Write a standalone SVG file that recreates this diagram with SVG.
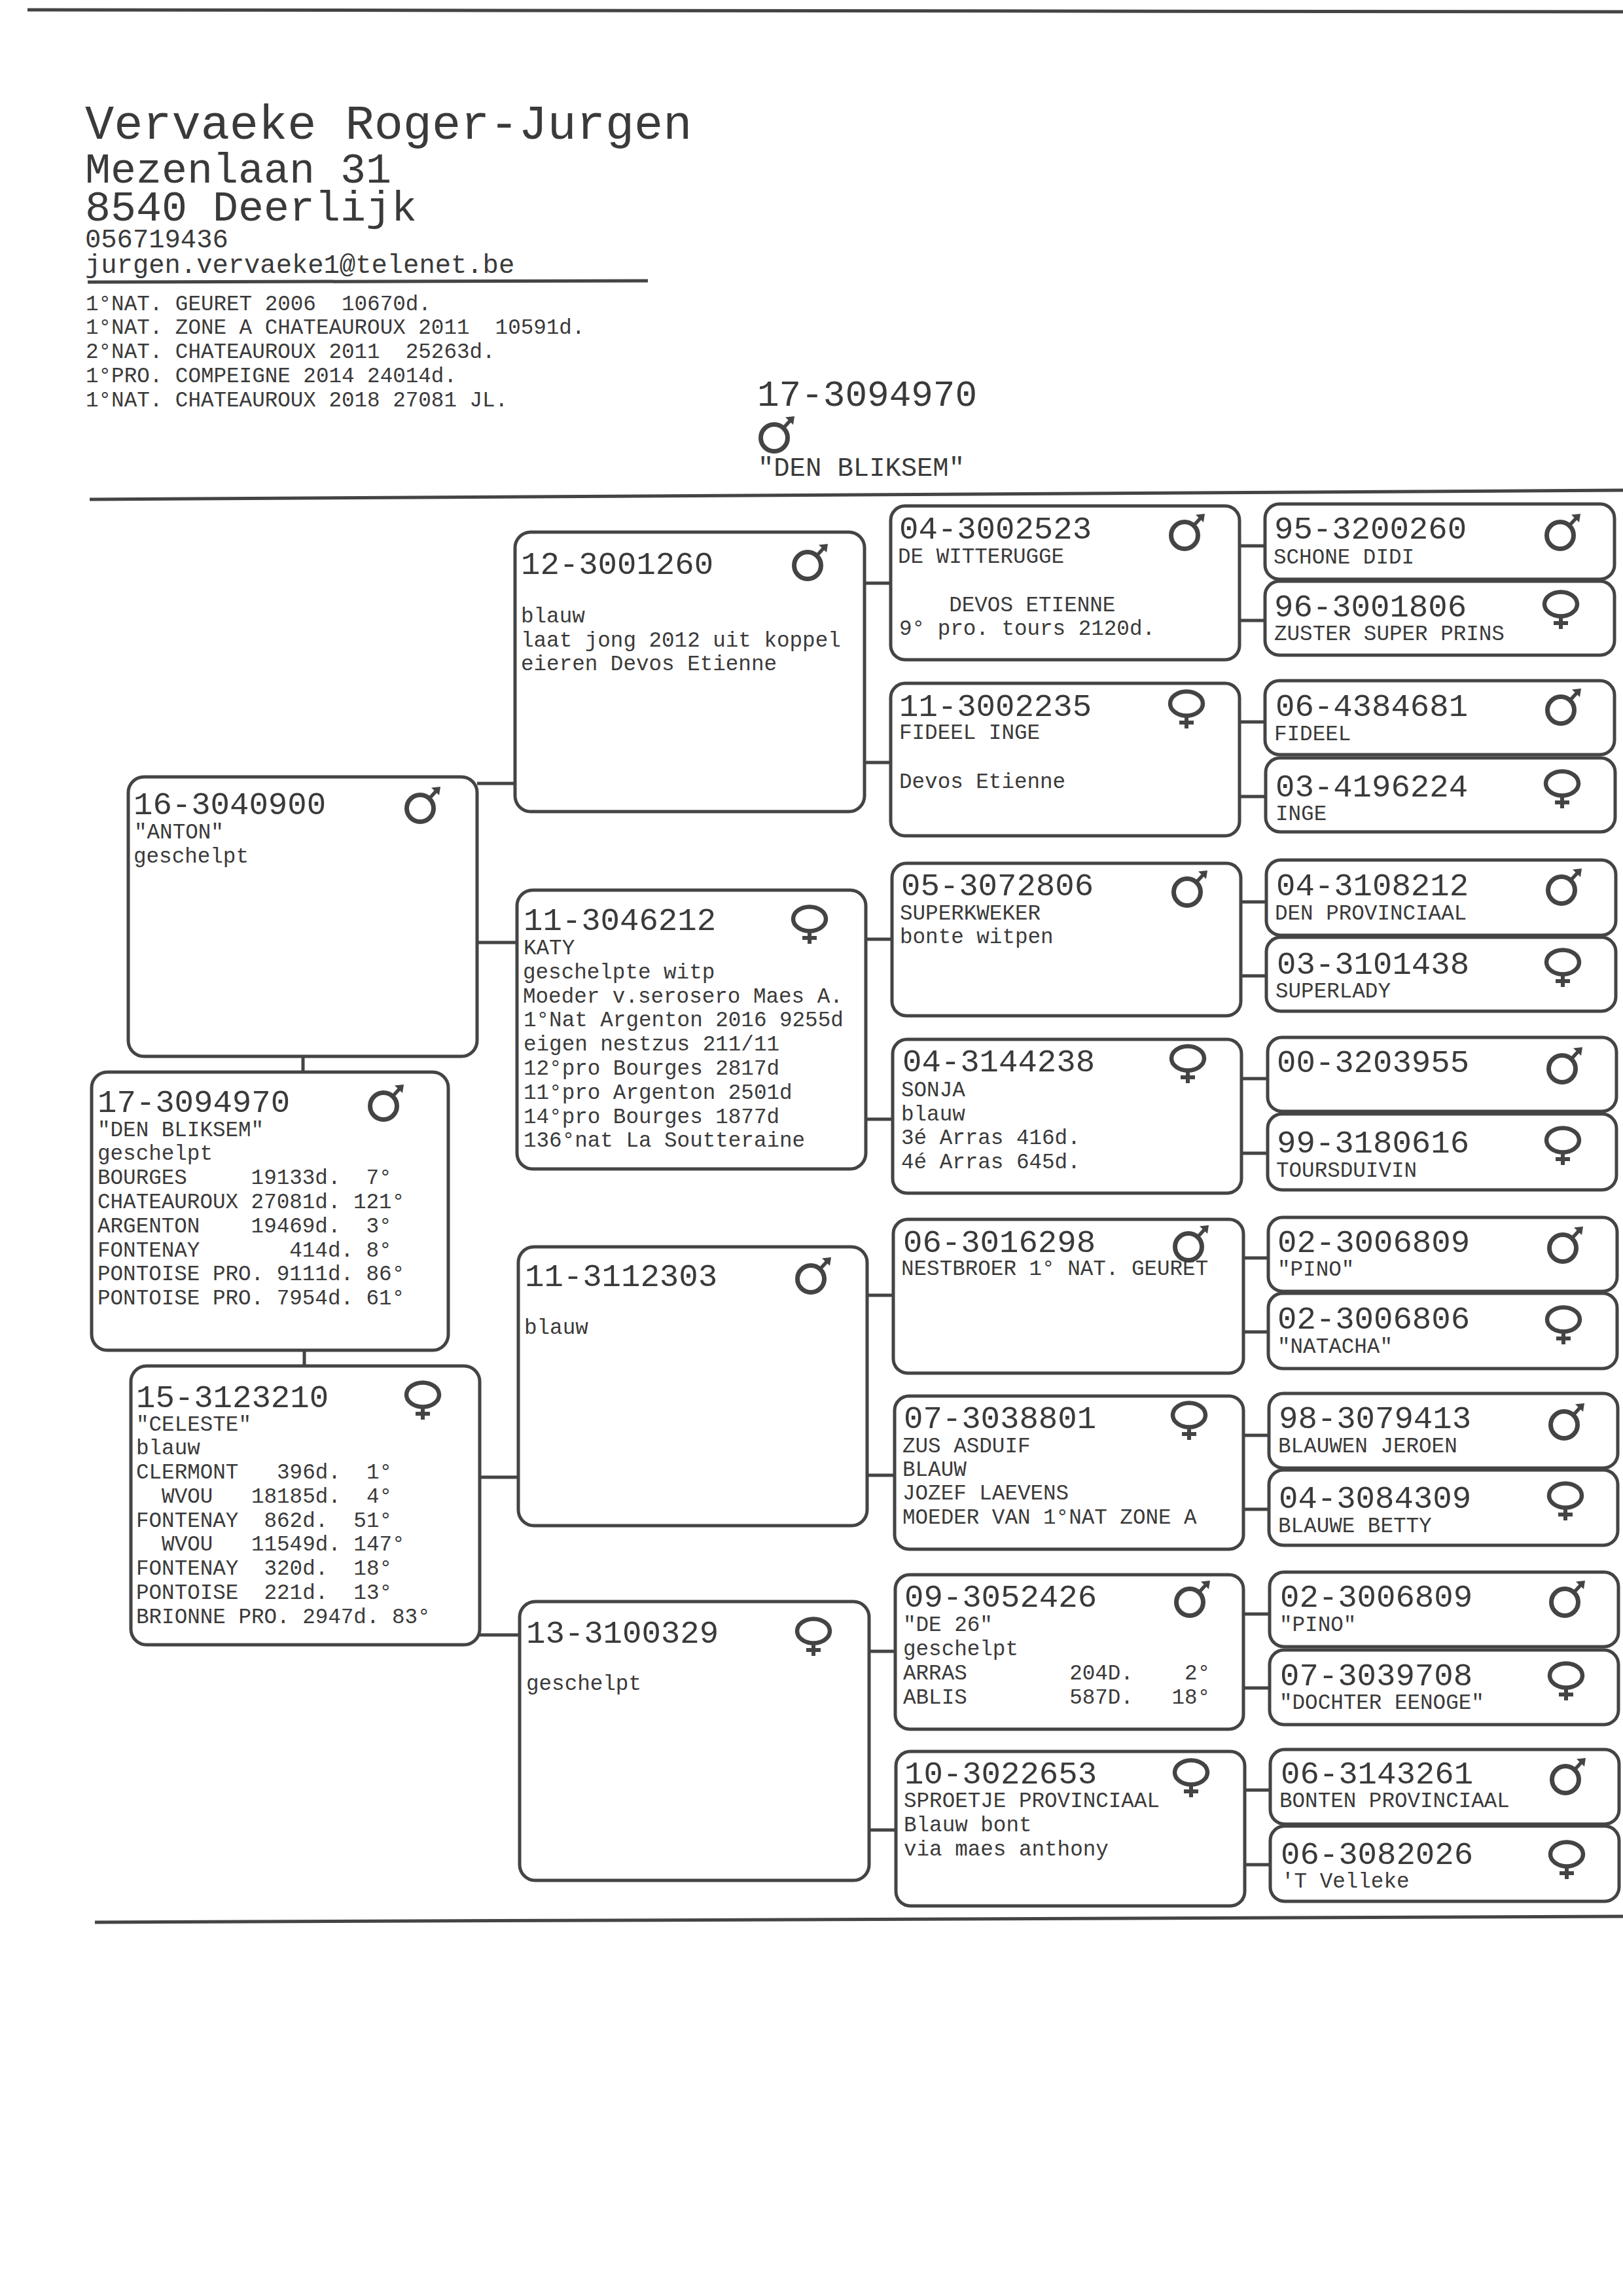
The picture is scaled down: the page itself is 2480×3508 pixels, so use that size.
<svg xmlns="http://www.w3.org/2000/svg" width="2480" height="3508" viewBox="0 0 2480 3508">
<style>
text{font-family:"Liberation Mono","DejaVu Sans Mono",monospace;fill:#3a3a3a;white-space:pre}
.id{font-size:49px}
.s{font-size:32.6px}
.h1{font-size:73.6px}
.h2{font-size:65px}
.h3{font-size:40.5px}
.t{font-size:56px}
.box{fill:#fff;stroke:#444;stroke-width:5}
.rule{fill:none;stroke:#444;stroke-width:5}
.c{fill:none;stroke:#444;stroke-width:5}
</style>
<defs>
<g id="m"><circle cx="0" cy="-1" r="20.5" fill="none" stroke="#444" stroke-width="7"/><path d="M14-16 25-28" fill="none" stroke="#444" stroke-width="5.5"/><path d="M17-32.500 31-34 29-21Z" fill="#444"/></g>
<g id="f"><ellipse cx="0" cy="-1" rx="25" ry="18.500" fill="none" stroke="#444" stroke-width="6.500"/><path d="M0 17V37M-11 28H11" fill="none" stroke="#444" stroke-width="6"/></g>
</defs>
<rect width="2480" height="3508" fill="#fff"/>
<g id="rules">
<path class="rule" d="M42 15 2480 18"/>
<path class="rule" d="M134 431 990 429"/>
<path class="rule" d="M137 763 2480 749"/>
<path class="rule" d="M145 2937 2480 2928"/>
</g>
<g id="header">
<text class="h1" x="130" y="212">Vervaeke Roger-Jurgen</text>
<text class="h2" x="130" y="279">Mezenlaan 31</text>
<text class="h2" x="130" y="337">8540 Deerlijk</text>
<text class="h3" x="130" y="378">056719436</text>
<text class="h3" x="130" y="417">jurgen.vervaeke1@telenet.be</text>
<text class="s" x="131" y="474">1°NAT. GEURET 2006  10670d.</text>
<text class="s" x="131" y="510">1°NAT. ZONE A CHATEAUROUX 2011  10591d.</text>
<text class="s" x="131" y="547">2°NAT. CHATEAUROUX 2011  25263d.</text>
<text class="s" x="131" y="584">1°PRO. COMPEIGNE 2014 24014d.</text>
<text class="s" x="131" y="621">1°NAT. CHATEAUROUX 2018 27081 JL.</text>
</g>
<g id="title">
<text class="t" x="1157" y="620">17-3094970</text>
<use href="#m" x="1183" y="670"/>
<text class="h3" x="1158" y="727">"DEN BLIKSEM"</text>
</g>
<g id="connectors">
<path class="c" d="M729 1197H787M730 1440H790M463 1614V1638M465 2063V2087M733 2257H792M733 2498H794"/>
<path class="c" d="M1321 891H1361M1321 1165H1361M1323 1435H1363M1323 1710H1364M1325 1979H1365M1325 2254H1367M1328 2523H1368M1328 2796H1369"/>
<path class="c" d="M1894 834H1933M1894 948H1933M1894 1103H1933M1894 1217H1933M1896 1378H1935M1896 1491H1935M1897 1648H1937M1897 1762H1937M1899 1922H1938M1899 2035H1938M1900 2193H1939M1900 2306H1939M1900 2466H1940M1900 2579H1940M1902 2735H1941M1902 2849H1941"/>
</g>
<g id="n-16-3040900"><rect class="box" x="196" y="1187" width="533" height="427" rx="24"/><use href="#m" x="642" y="1236"/>
<text class="id" x="204" y="1244">16-3040900</text>
<text class="s" x="205" y="1281">"ANTON"</text><text class="s" x="204" y="1318">geschelpt</text></g>
<g id="n-17-3094970"><rect class="box" x="140" y="1638" width="545" height="425" rx="24"/><use href="#m" x="586" y="1691"/>
<text class="id" x="149" y="1699">17-3094970</text>
<text class="s" x="149" y="1736">"DEN BLIKSEM"</text><text class="s" x="149" y="1772">geschelpt</text>
<text class="s" x="149" y="1809">BOURGES     19133d.  7°</text>
<text class="s" x="149" y="1846">CHATEAUROUX 27081d. 121°</text>
<text class="s" x="149" y="1883">ARGENTON    19469d.  3°</text>
<text class="s" x="149" y="1920">FONTENAY       414d. 8°</text>
<text class="s" x="149" y="1956">PONTOISE PRO. 9111d. 86°</text>
<text class="s" x="149" y="1993">PONTOISE PRO. 7954d. 61°</text></g>
<g id="n-15-3123210"><rect class="box" x="200" y="2087" width="533" height="426" rx="24"/><use href="#f" x="646" y="2132"/>
<text class="id" x="208" y="2150">15-3123210</text>
<text class="s" x="208" y="2186">"CELESTE"</text><text class="s" x="208" y="2222">blauw</text>
<text class="s" x="208" y="2259">CLERMONT   396d.  1°</text>
<text class="s" x="208" y="2296">  WVOU   18185d.  4°</text>
<text class="s" x="208" y="2333">FONTENAY  862d.  51°</text>
<text class="s" x="208" y="2369">  WVOU   11549d. 147°</text>
<text class="s" x="208" y="2406">FONTENAY  320d.  18°</text>
<text class="s" x="208" y="2443">PONTOISE  221d.  13°</text>
<text class="s" x="208" y="2480">BRIONNE PRO. 2947d. 83°</text></g>
<g id="n-12-3001260"><rect class="box" x="787" y="813" width="534" height="427" rx="24"/><use href="#m" x="1234" y="865"/>
<text class="id" x="796" y="877">12-3001260</text>
<text class="s" x="796" y="951">blauw</text><text class="s" x="796" y="988">laat jong 2012 uit koppel</text><text class="s" x="796" y="1024">eieren Devos Etienne</text></g>
<g id="n-11-3046212"><rect class="box" x="790" y="1360" width="533" height="426" rx="24"/><use href="#f" x="1237" y="1405"/>
<text class="id" x="800" y="1421">11-3046212</text>
<text class="s" x="800" y="1458">KATY</text><text class="s" x="799" y="1495">geschelpte witp</text><text class="s" x="799" y="1532">Moeder v.serosero Maes A.</text>
<text class="s" x="800" y="1568">1°Nat Argenton 2016 9255d</text><text class="s" x="800" y="1605">eigen nestzus 211/11</text><text class="s" x="800" y="1642">12°pro Bourges 2817d</text>
<text class="s" x="800" y="1679">11°pro Argenton 2501d</text><text class="s" x="800" y="1716">14°pro Bourges 1877d</text><text class="s" x="800" y="1752">136°nat La Soutteraine</text></g>
<g id="n-11-3112303"><rect class="box" x="792" y="1905" width="533" height="426" rx="24"/><use href="#m" x="1239" y="1955"/>
<text class="id" x="802" y="1965">11-3112303</text><text class="s" x="801" y="2038">blauw</text></g>
<g id="n-13-3100329"><rect class="box" x="794" y="2447" width="534" height="426" rx="24"/><use href="#f" x="1243" y="2493"/>
<text class="id" x="804" y="2510">13-3100329</text><text class="s" x="804" y="2582">geschelpt</text></g>
<g id="n-04-3002523"><rect class="box" x="1361" y="773" width="533" height="235" rx="22"/><use href="#m" x="1810" y="819"/>
<text class="id" x="1374" y="823">04-3002523</text><text class="s" x="1372" y="860">DE WITTERUGGE</text>
<text class="s" x="1372" y="934">    DEVOS ETIENNE</text><text class="s" x="1374" y="970">9° pro. tours 2120d.</text></g>
<g id="n-11-3002235"><rect class="box" x="1361" y="1044" width="533" height="233" rx="22"/><use href="#f" x="1813" y="1076"/>
<text class="id" x="1374" y="1094">11-3002235</text><text class="s" x="1374" y="1129">FIDEEL INGE</text><text class="s" x="1374" y="1204">Devos Etienne</text></g>
<g id="n-05-3072806"><rect class="box" x="1363" y="1319" width="533" height="233" rx="22"/><use href="#m" x="1814" y="1364"/>
<text class="id" x="1377" y="1368">05-3072806</text><text class="s" x="1375" y="1405">SUPERKWEKER</text><text class="s" x="1375" y="1441">bonte witpen</text></g>
<g id="n-04-3144238"><rect class="box" x="1364" y="1588" width="533" height="235" rx="22"/><use href="#f" x="1815" y="1618"/>
<text class="id" x="1379" y="1637">04-3144238</text><text class="s" x="1377" y="1675">SONJA</text><text class="s" x="1377" y="1712">blauw</text>
<text class="s" x="1377" y="1748">3é Arras 416d.</text><text class="s" x="1377" y="1785">4é Arras 645d.</text></g>
<g id="n-06-3016298"><rect class="box" x="1365" y="1863" width="535" height="235" rx="22"/><use href="#m" x="1816" y="1906"/>
<text class="id" x="1380" y="1913">06-3016298</text><text class="s" x="1377" y="1948">NESTBROER 1° NAT. GEURET</text></g>
<g id="n-07-3038801"><rect class="box" x="1367" y="2133" width="533" height="234" rx="22"/><use href="#f" x="1817" y="2163"/>
<text class="id" x="1381" y="2182">07-3038801</text><text class="s" x="1379" y="2219">ZUS ASDUIF</text><text class="s" x="1379" y="2255">BLAUW</text>
<text class="s" x="1379" y="2291">JOZEF LAEVENS</text><text class="s" x="1379" y="2328">MOEDER VAN 1°NAT ZONE A</text></g>
<g id="n-09-3052426"><rect class="box" x="1368" y="2406" width="532" height="236" rx="22"/><use href="#m" x="1818" y="2449"/>
<text class="id" x="1382" y="2455">09-3052426</text><text class="s" x="1380" y="2492">"DE 26"</text><text class="s" x="1380" y="2529">geschelpt</text>
<text class="s" x="1380" y="2566">ARRAS        204D.    2°</text><text class="s" x="1380" y="2603">ABLIS        587D.   18°</text></g>
<g id="n-10-3022653"><rect class="box" x="1369" y="2676" width="533" height="236" rx="22"/><use href="#f" x="1820" y="2709"/>
<text class="id" x="1382" y="2725">10-3022653</text><text class="s" x="1381" y="2761">SPROETJE PROVINCIAAL</text><text class="s" x="1381" y="2798">Blauw bont</text><text class="s" x="1381" y="2835">via maes anthony</text></g>
<g id="n-95-3200260"><rect class="box" x="1933" y="770" width="534" height="115" rx="22"/><use href="#m" x="2384" y="819"/>
<text class="id" x="1947" y="823">95-3200260</text><text class="s" x="1946" y="861">SCHONE DIDI</text></g>
<g id="n-96-3001806"><rect class="box" x="1933" y="888" width="534" height="113" rx="22"/><use href="#f" x="2385" y="924"/>
<text class="id" x="1947" y="942">96-3001806</text><text class="s" x="1947" y="978">ZUSTER SUPER PRINS</text></g>
<g id="n-06-4384681"><rect class="box" x="1933" y="1040" width="534" height="113" rx="22"/><use href="#m" x="2385" y="1086"/>
<text class="id" x="1949" y="1094">06-4384681</text><text class="s" x="1947" y="1131">FIDEEL</text></g>
<g id="n-03-4196224"><rect class="box" x="1934" y="1158" width="534" height="113" rx="22"/><use href="#f" x="2387" y="1198"/>
<text class="id" x="1949" y="1217">03-4196224</text><text class="s" x="1949" y="1253">INGE</text></g>
<g id="n-04-3108212"><rect class="box" x="1935" y="1314" width="534" height="115" rx="22"/><use href="#m" x="2386" y="1361"/>
<text class="id" x="1950" y="1368">04-3108212</text><text class="s" x="1948" y="1405">DEN PROVINCIAAL</text></g>
<g id="n-03-3101438"><rect class="box" x="1935" y="1432" width="534" height="113" rx="22"/><use href="#f" x="2388" y="1471"/>
<text class="id" x="1951" y="1488">03-3101438</text><text class="s" x="1949" y="1524">SUPERLADY</text></g>
<g id="n-00-3203955"><rect class="box" x="1937" y="1585" width="533" height="113" rx="22"/><use href="#m" x="2387" y="1634"/>
<text class="id" x="1951" y="1638">00-3203955</text></g>
<g id="n-99-3180616"><rect class="box" x="1937" y="1702" width="533" height="116" rx="22"/><use href="#f" x="2388" y="1743"/>
<text class="id" x="1951" y="1761">99-3180616</text><text class="s" x="1950" y="1798">TOURSDUIVIN</text></g>
<g id="n-02-3006809"><rect class="box" x="1938" y="1860" width="533" height="113" rx="22"/><use href="#m" x="2388" y="1908"/>
<text class="id" x="1952" y="1913">02-3006809</text><text class="s" x="1952" y="1949">"PINO"</text></g>
<g id="n-02-3006806"><rect class="box" x="1938" y="1976" width="533" height="115" rx="22"/><use href="#f" x="2389" y="2017"/>
<text class="id" x="1952" y="2030">02-3006806</text><text class="s" x="1952" y="2067">"NATACHA"</text></g>
<g id="n-98-3079413"><rect class="box" x="1939" y="2129" width="533" height="114" rx="22"/><use href="#m" x="2390" y="2178"/>
<text class="id" x="1954" y="2182">98-3079413</text><text class="s" x="1953" y="2219">BLAUWEN JEROEN</text></g>
<g id="n-04-3084309"><rect class="box" x="1939" y="2246" width="533" height="115" rx="22"/><use href="#f" x="2392" y="2286"/>
<text class="id" x="1954" y="2304">04-3084309</text><text class="s" x="1953" y="2341">BLAUWE BETTY</text></g>
<g id="n-02-3006809-b"><rect class="box" x="1940" y="2402" width="533" height="114" rx="22"/><use href="#m" x="2391" y="2449"/>
<text class="id" x="1956" y="2455">02-3006809</text><text class="s" x="1955" y="2492">"PINO"</text></g>
<g id="n-07-3039708"><rect class="box" x="1940" y="2521" width="533" height="114" rx="22"/><use href="#f" x="2393" y="2561"/>
<text class="id" x="1956" y="2575">07-3039708</text><text class="s" x="1955" y="2611">"DOCHTER EENOGE"</text></g>
<g id="n-06-3143261"><rect class="box" x="1941" y="2673" width="533" height="114" rx="22"/><use href="#m" x="2392" y="2720"/>
<text class="id" x="1957" y="2725">06-3143261</text><text class="s" x="1955" y="2761">BONTEN PROVINCIAAL</text></g>
<g id="n-06-3082026"><rect class="box" x="1941" y="2790" width="533" height="115" rx="22"/><use href="#f" x="2394" y="2834"/>
<text class="id" x="1957" y="2848">06-3082026</text><text class="s" x="1958" y="2884">'T Velleke</text></g>
</svg>
